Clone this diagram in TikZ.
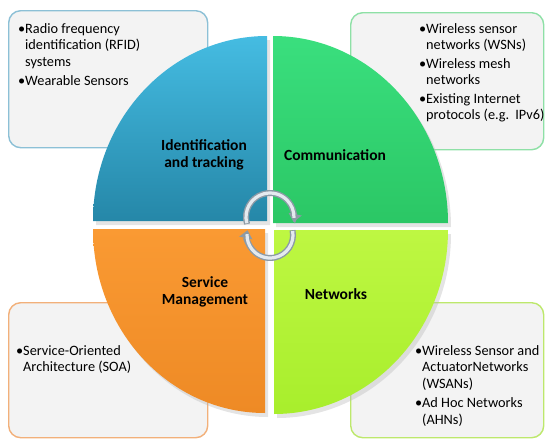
\documentclass[tikz,border=0pt]{standalone}
\usepackage{fontspec}
\setmainfont{Carlito}
\usetikzlibrary{arrows.meta}
\definecolor{bluetop}{HTML}{45BCE2}
\definecolor{bluebot}{HTML}{2587A8}
\definecolor{greentop}{HTML}{3ADF7E}
\definecolor{greenbot}{HTML}{2BC765}
\definecolor{orangetop}{HTML}{FA9A33}
\definecolor{orangebot}{HTML}{EE8A25}
\definecolor{limetop}{HTML}{BEF742}
\definecolor{limebot}{HTML}{A8EE2C}
\definecolor{bxblue}{HTML}{8CC0D6}
\definecolor{bxgreen}{HTML}{8EE0A6}
\definecolor{bxorange}{HTML}{F2B07A}
\definecolor{bxlime}{HTML}{BDE86C}
\definecolor{bxfill}{HTML}{F3F3F3}
\definecolor{arrowedge}{HTML}{8C9AA6}
\definecolor{arrowfill}{HTML}{E4EAEF}
\begin{document}
\begin{tikzpicture}[x=1pt,y=-1pt,
  box/.style={draw, line width=1.4pt, fill=bxfill, rounded corners=12pt, anchor=north west, inner sep=0pt},
  itemtext/.style={anchor=north west, align=left, inner sep=0pt, font=\fontsize{14.3}{16.5}\selectfont},
  qlabel/.style={align=center, inner sep=0pt, font=\bfseries\fontsize{15.5}{17.5}\selectfont},
  shadowq/.style={fill=black!30, opacity=0.35},
  arrowout/.style={draw=arrowedge, line width=6pt, -{Triangle[width=13pt,length=8pt]}},
  arrowin/.style={draw=arrowfill, line width=3.2pt}
]
\useasboundingbox (0,0) rectangle (546,439);
% boxes
\node[box, draw=bxblue, minimum width=199pt, minimum height=137pt] (tlbox) at (8,10) {};
\node[box, draw=bxgreen, minimum width=193pt, minimum height=137pt] (trbox) at (350,12) {};
\node[box, draw=bxorange, minimum width=199pt, minimum height=135pt] (blbox) at (8,302) {};
\node[box, draw=bxlime, minimum width=193pt, minimum height=135pt] (brbox) at (350,302) {};
% shadows
\fill[shadowq] (270,225) -- (96,225) arc[start angle=180,end angle=90,x radius=174pt,y radius=185pt] -- cycle;
\fill[shadowq] (276,227) -- (276,40) arc[start angle=90,end angle=0,x radius=175pt,y radius=187pt] -- cycle;
\fill[shadowq] (268,233) -- (96,233) arc[start angle=180,end angle=270,x radius=172pt,y radius=184pt] -- cycle;
\fill[shadowq] (277,234) -- (451,234) arc[start angle=0,end angle=-90,x radius=174pt,y radius=184pt] -- cycle;
% quadrants
\shade[top color=bluetop, bottom color=bluebot] (267,221) -- (93,221) arc[start angle=180,end angle=90,x radius=174pt,y radius=185pt] -- cycle;
\shade[top color=greentop, bottom color=greenbot] (273,223) -- (273,36) arc[start angle=90,end angle=0,x radius=175pt,y radius=187pt] -- cycle;
\shade[top color=orangetop, bottom color=orangebot] (265,229) -- (93,229) arc[start angle=180,end angle=270,x radius=172pt,y radius=184pt] -- cycle;
\shade[top color=limetop, bottom color=limebot] (274,230) -- (448,230) arc[start angle=0,end angle=-90,x radius=174pt,y radius=184pt] -- cycle;
% arrows
\coordinate (ta) at (270,217);
\coordinate (ba) at (270,235);
\draw[arrowout] ([shift={(197:24pt)}]ta) arc[start angle=197,end angle=-12,radius=24pt];
\draw[arrowin] ([shift={(195:24pt)}]ta) arc[start angle=195,end angle=-2,radius=24pt];
\draw[arrowout] ([shift={(12:23pt)}]ba) arc[start angle=12,end angle=-192,radius=23pt];
\draw[arrowin] ([shift={(10:23pt)}]ba) arc[start angle=10,end angle=-182,radius=23pt];
% quadrant labels
\node[qlabel] (q1) at (204,155) {Identification\\and tracking};
\node[qlabel] (q2) at (335,155) {Communication};
\node[qlabel] (q3) at (205,292) {Service\\Management};
\node[qlabel] (q4) at (336,294) {Networks};
% box texts
\node[itemtext] (t1) at (18,23) {\makebox[7pt][l]{•}Radio frequency\\\hspace*{7pt}identification (RFID)\\\hspace*{7pt}systems\\[2.5pt]\makebox[7pt][l]{•}Wearable Sensors};
\node[itemtext] (t2) at (419,23) {\makebox[7pt][l]{•}Wireless sensor\\\hspace*{7pt}networks (WSNs)\\[2pt]\makebox[7pt][l]{•}Wireless mesh\\\hspace*{7pt}networks\\[2pt]\makebox[7pt][l]{•}Existing Internet\\\hspace*{7pt}protocols (e.g.\hspace{6pt}IPv6)};
\node[itemtext] (t3) at (16,345) {\makebox[7pt][l]{•}Service-Oriented\\\hspace*{7pt}Architecture (SOA)};
\node[itemtext] (t4) at (415,345) {\makebox[7pt][l]{•}Wireless Sensor and\\\hspace*{7pt}ActuatorNetworks\\\hspace*{7pt}(WSANs)\\[3pt]\makebox[7pt][l]{•}Ad Hoc Networks\\\hspace*{7pt}(AHNs)};
\end{tikzpicture}
\end{document}
